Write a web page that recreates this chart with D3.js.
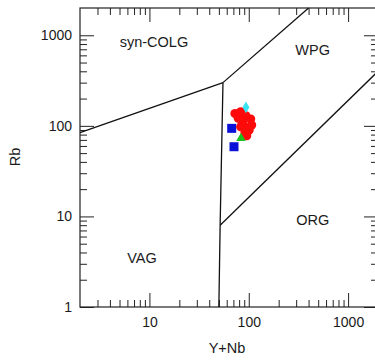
<!DOCTYPE html>
<html>
<head>
<meta charset="utf-8">
<script src="https://cdn.jsdelivr.net/npm/d3@7"></script>
<style>
  body { margin: 0; background: #fff; }
  svg { display: block; font-family: "Liberation Sans", Arial, sans-serif; }
  .axis text { font-size: 14px; fill: #1a1a1a; }
  .axis line { stroke: #222; stroke-width: 1; }
  .field { font-size: 14.5px; fill: #1a1a1a; }
</style>
</head>
<body>
<div id="chart"></div>
<script>
var W = 375, H = 360;

// tick values
var xMajor = [10, 100, 1000];
var yMajor = [1, 10, 100, 1000];
var xMinor = [3, 4, 5, 6, 7, 8, 9, 20, 30, 40, 50, 60, 70, 80, 90, 200, 300, 400, 500, 600, 700, 800, 900];
var yMinor = [2, 3, 4, 5, 6, 7, 8, 9, 20, 30, 40, 50, 60, 70, 80, 90, 200, 300, 400, 500, 600, 700, 800, 900];

// field boundaries (Y+Nb, Rb)
var colgVag = [[2, 84], [55, 300]];
var colgWpg = [[55, 300], [400, 2000]];
var vagWpg = [[55, 300], [51.5, 8], [50, 1]];
var wpgOrg = [[51.5, 8], [2000, 400]];

// field labels
var fieldNames = ["syn-COLG", "WPG", "ORG", "VAG"];
var fieldX = [11.1, 440, 440, 8.4];
var fieldY = [843, 687, 9.1, 3.47];

// samples
var redX = [72.6, 82.9, 93.7, 104.5, 107, 96.6, 86.8, 82.9, 101, 91.6, 95.3, 78.4];
var redY = [137, 143, 129, 119, 102, 95.3, 109, 97.7, 89.8, 84.7, 77.8, 121];
var blueX = [67.3, 71];
var blueY = [93.8, 58.8];
var greenX = [83.5];
var greenY = [73];
var cyanX = [93.7];
var cyanY = [160];

var svg = d3.select("#chart").append("svg")
    .attr("width", W)
    .attr("height", H);

var x = d3.scaleLog().domain([2, 2000]).range([80, 378]);
var y = d3.scaleLog().domain([1, 2000]).range([307, 8]);

function noLabel() { return ""; }

// minor ticks, all four sides
svg.append("g").attr("class", "axis").attr("transform", "translate(0,307)")
    .call(d3.axisBottom(x).tickValues(xMinor).tickSize(-7).tickFormat(noLabel));
svg.append("g").attr("class", "axis").attr("transform", "translate(0,8)")
    .call(d3.axisTop(x).tickValues(xMinor).tickSize(-7).tickFormat(noLabel));
svg.append("g").attr("class", "axis").attr("transform", "translate(80,0)")
    .call(d3.axisLeft(y).tickValues(yMinor).tickSize(-7).tickFormat(noLabel));
svg.append("g").attr("class", "axis").attr("transform", "translate(378,0)")
    .call(d3.axisRight(y).tickValues(yMinor).tickSize(-7).tickFormat(noLabel));

// major ticks
svg.append("g").attr("class", "axis").attr("transform", "translate(0,307)")
    .call(d3.axisBottom(x).tickValues(xMajor).tickSize(-14).tickPadding(10).tickFormat(d3.format("d")));
svg.append("g").attr("class", "axis").attr("transform", "translate(0,8)")
    .call(d3.axisTop(x).tickValues(xMajor).tickSize(-14).tickFormat(noLabel));
svg.append("g").attr("class", "axis").attr("transform", "translate(80,0)")
    .call(d3.axisLeft(y).tickValues(yMajor).tickSize(-14).tickPadding(8).tickFormat(d3.format("d")));
svg.append("g").attr("class", "axis").attr("transform", "translate(378,0)")
    .call(d3.axisRight(y).tickValues(yMajor).tickSize(-14).tickFormat(noLabel));

svg.selectAll(".axis .domain").remove();

// frame
svg.append("rect")
    .attr("x", x(2)).attr("y", y(2000))
    .attr("width", x(2000) - x(2)).attr("height", y(1) - y(2000))
    .attr("fill", "none").attr("stroke", "#222").attr("stroke-width", 1.2);

// boundaries
var line = d3.line()
    .x(function(d) { return x(d[0]); })
    .y(function(d) { return y(d[1]); });

[colgVag, colgWpg, vagWpg, wpgOrg].forEach(function(b) {
  svg.append("path")
      .attr("d", line(b))
      .attr("fill", "none")
      .attr("stroke", "#111")
      .attr("stroke-width", 1.3);
});

// field names
svg.selectAll(".field")
    .data(fieldNames)
    .enter().append("text")
    .attr("class", "field")
    .attr("x", function(d, i) { return x(fieldX[i]); })
    .attr("y", function(d, i) { return y(fieldY[i]); })
    .attr("dy", "0.35em")
    .attr("text-anchor", "middle")
    .text(function(d) { return d; });

// axis titles
svg.append("text")
    .attr("class", "field")
    .attr("x", 227).attr("y", 353)
    .attr("text-anchor", "middle")
    .text("Y+Nb");
svg.append("text")
    .attr("class", "field")
    .attr("transform", "translate(20,157) rotate(-90)")
    .attr("text-anchor", "middle")
    .text("Rb");

// samples
function drawSymbols(xs, ys, type, size, color) {
  svg.append("g").selectAll("path")
      .data(xs)
      .enter().append("path")
      .attr("transform", function(d, i) { return "translate(" + x(d) + "," + y(ys[i]) + ")"; })
      .attr("d", d3.symbol().type(type).size(size))
      .attr("fill", color);
}

drawSymbols(blueX, blueY, d3.symbolSquare, 81, "#0b12d8");
drawSymbols(redX, redY, d3.symbolCircle, 66, "#ff0a0a");
drawSymbols(greenX, greenY, d3.symbolTriangle, 40, "#1ec21e");
drawSymbols(cyanX, cyanY, d3.symbolDiamond, 40, "#38e4f2");
</script>
</body>
</html>
